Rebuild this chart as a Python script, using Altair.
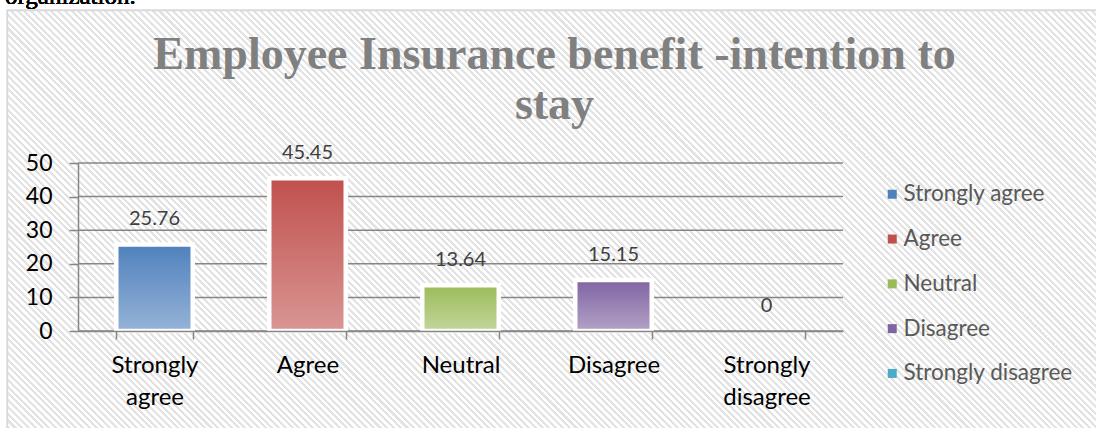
import altair as alt
import pandas as pd

categories = ["Strongly agree", "Agree", "Neutral", "Disagree", "Strongly disagree"]
values = [25.76, 45.45, 13.64, 15.15, 0]
top_colors = ["#4f81bd", "#c0504d", "#9bbb59", "#8064a2", "#4bacc6"]
bottom_colors = ["#95b3d7", "#d99694", "#c3d69b", "#b3a2c7", "#92cddc"]
y_ticks = [0, 10, 20, 30, 40, 50]

df = pd.DataFrame({"cat": categories, "value": values})
grid_df = pd.DataFrame({"value": y_ticks})

W, H = 765, 168
PAD_L, PAD_T = 78, 163

# ---- hatched chart-area background (diagonal stripes as a hard-stop gradient) ----
FX0, FY0, FX1, FY1 = 7.5, 10.5, 1100.0, 432.0
RW, RH = FX1 - FX0, FY1 - FY0
r = RH / RW
k = (1 + r) / (1 + r * r)
span = (RW + RH) / 2 ** 0.5          # pixel length across the stripes
period = 4.8
n = int(span / period) + 1
stops = []
for i in range(n):
    a = i / n
    b = (i + 0.55) / n
    c = (i + 1) / n
    stops += [
        alt.GradientStop(color="#ffffff", offset=a),
        alt.GradientStop(color="#ffffff", offset=b),
        alt.GradientStop(color="#e3e3e3", offset=b),
        alt.GradientStop(color="#e3e3e3", offset=c),
    ]
hatch = alt.LinearGradient(gradient="linear", x1=0, y1=1, x2=k, y2=1 - k * r, stops=stops)

x_enc = alt.X(
    "cat:N",
    sort=categories,
    scale=alt.Scale(domain=categories, paddingInner=0.5, paddingOuter=0.25),
    axis=alt.Axis(
        title=None,
        labelAngle=0,
        labelExpr="split(datum.label, ' ')",
        labelFont="Lato",
        labelFontSize=24,
        labelColor="#000000",
        labelLineHeight=32,
        labelPadding=14,
        labelBaseline="top",
        tickBand="extent",
        tickSize=8,
        tickColor="#868686",
        tickWidth=1.5,
        domainColor="#868686",
        domainWidth=1.5,
        grid=False,
        zindex=2,
    ),
)
y_enc = alt.Y(
    "value:Q",
    scale=alt.Scale(domain=[0, 50], nice=False),
    axis=alt.Axis(
        title=None,
        values=y_ticks,
        labelFont="Lato",
        labelFontSize=23,
        labelColor="#000000",
        labelPadding=17,
        tickSize=9,
        tickColor="#868686",
        tickWidth=1.5,
        domainColor="#868686",
        domainWidth=1.5,
        grid=False,
        zindex=2,
    ),
)

base = alt.Chart(df)

frame = base.mark_rect(fill=hatch, stroke="#d9d9d9", strokeWidth=1.5).encode(
    x=alt.value(FX0 - PAD_L), x2=alt.value(FX1 - PAD_L),
    y=alt.value(FY0 - PAD_T), y2=alt.value(FY1 - PAD_T),
)
page_text = base.mark_text(
    text="organization.", font="Liberation Serif", fontSize=25, align="left",
    baseline="alphabetic", color="#000000",
).encode(x=alt.value(5 - PAD_L), y=alt.value(4 - PAD_T))

grid = alt.Chart(grid_df).mark_rule(color="#868686", strokeWidth=1.5).encode(y=y_enc)

bars = []
for c, top, bot in zip(categories, top_colors, bottom_colors):
    grad = alt.LinearGradient(
        gradient="linear",
        x1=0, y1=0, x2=0, y2=1,
        stops=[alt.GradientStop(color=top, offset=0), alt.GradientStop(color=bot, offset=1)],
    )
    bars.append(
        base.transform_filter((alt.datum.cat == c) & (alt.datum.value > 0))
        .mark_bar(fill=grad, stroke="white", strokeWidth=4.5)
        .encode(x=x_enc, y=y_enc)
    )

labels = base.mark_text(
    font="Lato", fontSize=20, color="#404040", baseline="middle", dy=-25
).encode(x=x_enc, y=y_enc, text=alt.Text("value:Q"))

legend_layer = base.mark_square(opacity=0, size=1).encode(
    x=x_enc,
    y=y_enc,
    color=alt.Color(
        "cat:N",
        sort=categories,
        scale=alt.Scale(domain=categories, range=top_colors),
        legend=alt.Legend(
            title=None,
            orient="none",
            legendX=803,
            legendY=20,
            symbolType="square",
            symbolSize=81,
            symbolOpacity=1,
            symbolStrokeWidth=0,
            labelFont="Lato",
            labelFontSize=22.5,
            labelColor="#595959",
            labelOffset=0,
            labelLimit=400,
            rowPadding=21.8,
            padding=0,
        ),
    ),
)

chart = (
    alt.layer(frame, page_text, grid, *bars, labels, legend_layer)
    .properties(
        width=W,
        height=H,
        padding={"left": PAD_L, "top": PAD_T, "right": 1096 - PAD_L - W, "bottom": 428 - PAD_T - H},
        autosize=alt.AutoSizeParams(type="none"),
        title=alt.TitleParams(
            text=["Employee Insurance benefit -intention to", "stay"],
            font="Liberation Serif",
            fontSize=46,
            fontWeight="bold",
            color="#808080",
            anchor="middle",
            baseline="bottom",
            lineHeight=50,
            offset=0,
            dx=94,
            dy=191,
        ),
    )
    .configure(background="#ffffff")
    .configure_view(stroke=None)
)

chart.save("out.html", embed_options={"renderer": "svg", "actions": False})
